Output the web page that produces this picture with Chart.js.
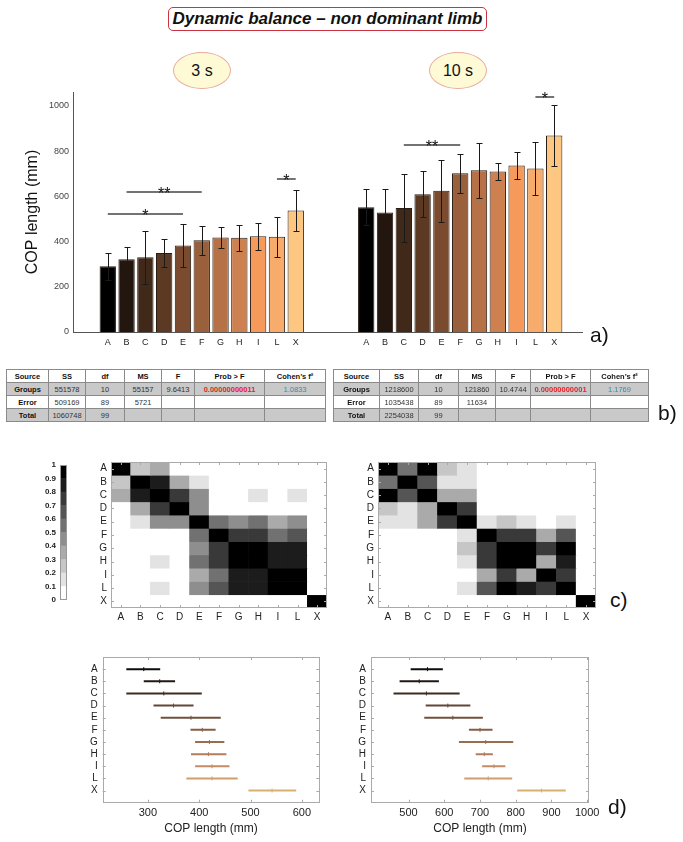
<!DOCTYPE html>
<html>
<head>
<meta charset="utf-8">
<script src="https://cdn.jsdelivr.net/npm/chart.js@4.4.1/dist/chart.umd.min.js"></script>
<style>
  body { margin: 0; width: 683px; height: 842px; position: relative; background: #fff; overflow: hidden;
         font-family: "Liberation Sans", Arial, sans-serif; color: #111; }
  canvas { position: absolute; }
  .title { position: absolute; left: 168px; top: 7px; width: 317px; height: 22px; border: 1.5px solid #cc3340;
           border-radius: 5px; text-align: center; line-height: 22px; font-size: 17px; font-weight: bold; font-style: italic; }
  .oval { position: absolute; top: 52px; width: 56px; height: 35px; border-radius: 50%; background: #fffad6;
          border: 1px solid #e8ab9c; text-align: center; line-height: 35px; font-size: 16px; }
  .lab { position: absolute; font-size: 21px; line-height: 24px; }
  table { position: absolute; border-collapse: collapse; table-layout: fixed; font-size: 7.5px; border: 1px solid #555; }
  td { border: 1px solid #8a8a8a; height: 12px; padding: 0; text-align: center; color: #333; overflow: hidden; white-space: nowrap; }
  tr.head td { font-weight: bold; color: #111; background: #fff; }
  tr.gray td { background: #c9c9c9; }
  td.src { font-weight: bold; color: #111; }
  td.p { color: #e8222a; font-weight: bold; }
  td.f2 { color: #2f8fb3; }
</style>
</head>
<body>
<div class="title">Dynamic balance – non dominant limb</div>
<div class="oval" style="left:173px">3 s</div>
<div class="oval" style="left:429px">10 s</div>

<canvas id="bars" width="683" height="300" style="left:0;top:60px"></canvas>
<div class="lab" style="left:590px;top:323px">a)</div>

<table id="tab3" style="left:6px;top:369px;width:319px"></table>
<table id="tab10" style="left:333px;top:369px;width:315px"></table>
<div class="lab" style="left:658px;top:401px">b)</div>

<canvas id="cbar" width="50" height="160" style="left:30px;top:455px"></canvas>
<canvas id="heat3" width="260" height="180" style="left:80px;top:450px"></canvas>
<canvas id="heat10" width="260" height="180" style="left:347px;top:450px"></canvas>
<div class="lab" style="left:610px;top:588px">c)</div>

<canvas id="mc3" width="290" height="197" style="left:50px;top:645px"></canvas>
<canvas id="mc10" width="290" height="197" style="left:320px;top:645px"></canvas>
<div class="lab" style="left:608px;top:795px">d)</div>

<script>
// groups and colours
const groups = ['A', 'B', 'C', 'D', 'E', 'F', 'G', 'H', 'I', 'L', 'X'];
const barColors = ['#000000', '#23160f', '#41291a', '#5c3923', '#7a4b2f', '#99603b', '#b67246', '#cd8150', '#f69a5c', '#f8ac6c', '#fec781'];
const lineColors = ['#0d0d0d', '#1f1814', '#3b2b21', '#634636', '#70503f', '#855c45', '#9c6c4f', '#b27d5c', '#c48c64', '#cf9e6c', '#d7b072'];

// a) mean and sd of COP length
const mean3 = [291, 322, 331, 350, 383, 406, 418, 417, 424, 422, 538];
const sd3 = [59, 55, 117, 62, 97, 64, 47, 57, 60, 88, 91];
const mean10 = [552, 529, 549, 610, 625, 702, 716, 710, 737, 724, 869];
const sd10 = [79, 102, 149, 101, 138, 85, 122, 36, 58, 117, 134];
const yTicksBars = [0, 200, 400, 600, 800, 1000];
// significance: from, to, height, mark
const sig3 = [['A', 'E', 523, '*'], ['B', 'F', 619, '**'], ['L', 'X', 676, '*']];
const sig10 = [['C', 'F', 829, '**'], ['L', 'X', 1041, '*']];

// b) anova tables
const tableHead = ['Source', 'SS', 'df', 'MS', 'F', 'Prob > F', 'Cohen\u2019s f\u00b2'];
const sources = ['Groups', 'Error', 'Total'];
const ss3 = [551578, 509169, 1060748];
const ss10 = [1218600, 1035438, 2254038];
const dfs = [10, 89, 99];
const ms3 = [55157, 5721];
const ms10 = [121860, 11634];
const fStat = ['9.6413', '10.4744'];
const probF = ['0.00000000011', '0.00000000001'];
const cohen = ['1.0833', '1.1769'];

// c) similarity matrices (0..1)
const sim3 = [
  [1, .25, .35, 0, 0, 0, 0, 0, 0, 0, 0],
  [.25, 1, .85, .35, .15, 0, 0, 0, 0, 0, 0],
  [.35, .85, 1, .7, .45, 0, 0, .15, 0, .15, 0],
  [0, .35, .7, 1, .45, 0, 0, 0, 0, 0, 0],
  [0, .15, .45, .45, 1, .55, .45, .55, .35, .45, 0],
  [0, 0, 0, 0, .55, 1, .7, .75, .55, .65, 0],
  [0, 0, 0, 0, .45, .7, 1, .95, .85, .85, 0],
  [0, 0, .15, 0, .55, .75, .95, 1, .85, .85, 0],
  [0, 0, 0, 0, .35, .55, .85, .85, 1, .95, 0],
  [0, 0, .15, 0, .45, .65, .85, .85, .95, 1, 0],
  [0, 0, 0, 0, 0, 0, 0, 0, 0, 0, 1]
];
const sim10 = [
  [1, .55, .95, .25, .15, 0, 0, 0, 0, 0, 0],
  [.55, 1, .65, .15, .15, 0, 0, 0, 0, 0, 0],
  [.95, .65, 1, .35, .35, 0, 0, 0, 0, 0, 0],
  [.25, .15, .35, 1, .75, 0, 0, 0, 0, 0, 0],
  [.15, .15, .35, .75, 1, .15, .25, .15, 0, .15, 0],
  [0, 0, 0, 0, .15, 1, .75, .75, .35, .6, 0],
  [0, 0, 0, 0, .25, .75, 1, .95, .7, .95, 0],
  [0, 0, 0, 0, .15, .75, .95, 1, .35, .85, 0],
  [0, 0, 0, 0, 0, .35, .7, .35, 1, .75, 0],
  [0, 0, 0, 0, .15, .6, .95, .85, .75, 1, 0],
  [0, 0, 0, 0, 0, 0, 0, 0, 0, 0, 1]
];
const cbLevels = [0, .1, .2, .3, .4, .5, .6, .7, .8, .9];
const cbTicks = [0, .1, .2, .3, .4, .5, .6, .7, .8, .9, 1];

// d) comparison intervals
const lo3 = [258, 292, 258, 311, 325, 383, 392, 384, 392, 375, 496];
const mid3 = [292, 323, 331, 350, 384, 406, 420, 418, 425, 425, 542];
const hi3 = [324, 353, 405, 389, 442, 432, 449, 453, 459, 475, 589];
const lo10 = [506, 475, 458, 548, 544, 669, 641, 688, 706, 656, 804];
const mid10 = [553, 530, 550, 610, 624, 700, 716, 712, 739, 723, 872];
const hi10 = [596, 585, 643, 673, 708, 735, 793, 736, 771, 790, 940];
const xTicks3 = [300, 400, 500, 600];
const xTicks10 = [500, 600, 700, 800, 900, 1000];

Chart.defaults.font.family = '"Liberation Sans", Arial, sans-serif';
Chart.defaults.color = '#222';
Chart.defaults.animation = false;
Chart.defaults.plugins.legend.display = false;
Chart.defaults.plugins.tooltip.enabled = false;

const gap = 13.75; // slots between the two groups of bars
const xPos = groups.map((g, i) => i).concat(groups.map((g, i) => i + gap));
const allLabels = groups.concat(groups);
const allMeans = mean3.concat(mean10);
const allSd = sd3.concat(sd10);

const errBars = {
  id: 'errBars',
  afterDatasetsDraw(chart) {
    const {ctx, scales: {x, y}} = chart;
    const meta = chart.getDatasetMeta(0);
    ctx.save();
    ctx.strokeStyle = '#1a1a1a';
    ctx.lineWidth = 1;
    meta.data.forEach((bar, i) => {
      const px = Math.round(bar.x) + 0.5;
      const t = Math.round(y.getPixelForValue(allMeans[i] + allSd[i])) + 0.5;
      const b = Math.round(y.getPixelForValue(allMeans[i] - allSd[i])) + 0.5;
      ctx.beginPath();
      ctx.moveTo(px, t); ctx.lineTo(px, b);
      ctx.moveTo(px - 3, t); ctx.lineTo(px + 3, t);
      ctx.moveTo(px - 3, b); ctx.lineTo(px + 3, b);
      ctx.stroke();
    });
    // significance brackets
    const marks = sig3.map(s => [groups.indexOf(s[0]), groups.indexOf(s[1]), s[2], s[3]])
      .concat(sig10.map(s => [groups.indexOf(s[0]) + 11, groups.indexOf(s[1]) + 11, s[2], s[3]]));
    ctx.strokeStyle = '#444';
    ctx.lineWidth = 1.5;
    ctx.fillStyle = '#111';
    ctx.font = '16px "Liberation Sans", Arial, sans-serif';
    ctx.textAlign = 'center';
    ctx.textBaseline = 'alphabetic';
    marks.forEach(([a, b, v, m]) => {
      const x1 = meta.data[a].x, x2 = meta.data[b].x;
      const py = Math.round(y.getPixelForValue(v));
      ctx.beginPath();
      ctx.moveTo(x1, py); ctx.lineTo(x2, py);
      ctx.stroke();
      ctx.fillText(m, (x1 + x2) / 2, py + 7);
    });
    ctx.restore();
  }
};

new Chart(document.getElementById('bars'), {
  type: 'bar',
  data: {
    datasets: [{
      data: allMeans.map((v, i) => ({x: xPos[i], y: v})),
      backgroundColor: barColors.concat(barColors),
      borderColor: '#2a1d14',
      borderWidth: 1,
      barPercentage: 0.87,
      categoryPercentage: 1
    }]
  },
  options: {
    responsive: false,
    devicePixelRatio: 1,
    layout: {padding: {top: 32, right: 101, left: 0, bottom: 0}},
    scales: {
      x: {
        type: 'linear', min: -1.85, max: 25.23, offset: false,
        grid: {display: false, drawTicks: false},
        border: {display: true, color: '#555'},
        afterBuildTicks: s => { s.ticks = xPos.map(v => ({value: v})); },
        afterFit: s => { s.height = 28; },
        ticks: {autoSkip: false, maxRotation: 0, padding: 5, font: {size: 9}, color: '#222',
                callback: (v, i) => allLabels[i]}
      },
      y: {
        min: 0, max: 1062,
        grid: {display: false, drawTicks: false},
        border: {display: true, color: '#555'},
        afterBuildTicks: s => { s.ticks = yTicksBars.map(v => ({value: v})); },
        afterFit: s => { s.width = 73; },
        ticks: {padding: 4, font: {size: 9}, color: '#444', callback: v => String(v)},
        title: {display: true, text: 'COP length (mm)', font: {size: 16}, color: '#111', padding: {top: 23, bottom: 0}}
      }
    }
  },
  plugins: [errBars]
});

// tables
function buildTable(id, k, ss, ms) {
  const rows = [tableHead];
  sources.forEach((s, i) => {
    rows.push([s, ss[i], dfs[i], i < ms.length ? ms[i] : '', i === 0 ? fStat[k] : '', i === 0 ? probF[k] : '', i === 0 ? cohen[k] : '']);
  });
  const widths = k === 0 ? [42, 37, 39, 37, 33, 70, 61] : [46, 39, 40, 37, 35, 60, 58];
  let html = '<colgroup>' + widths.map(w => '<col style="width:' + w + 'px">').join('') + '</colgroup>';
  rows.forEach((r, ri) => {
    const cls = ri === 0 ? 'head' : (ri === 2 ? '' : 'gray');
    html += '<tr class="' + cls + '">' + r.map((c, ci) => {
      let tc = ci === 0 ? 'src' : '';
      if (ri === 1 && ci === 5) tc = 'p';
      if (ri === 1 && ci === 6) tc = 'f2';
      return '<td class="' + tc + '">' + c + '</td>';
    }).join('') + '</tr>';
  });
  document.getElementById(id).innerHTML = html;
}
buildTable('tab3', 0, ss3, ms3);
buildTable('tab10', 1, ss10, ms10);

// grey level for a similarity value
function grayOf(v) {
  const k = Math.min(9, Math.floor(v * 10 + 1e-6));
  const g = Math.round(255 * (1 - k / 9));
  return 'rgb(' + g + ',' + g + ',' + g + ')';
}

function frame(color, withTicks) {
  return {
    id: 'frame',
    afterDraw(chart) {
      const {ctx, chartArea: a, scales: {x, y}} = chart;
      ctx.save();
      ctx.strokeStyle = color;
      ctx.lineWidth = 1;
      ctx.strokeRect(Math.round(a.left) + 0.5, Math.round(a.top) + 0.5, Math.round(a.width) - 1, Math.round(a.height) - 1);
      if (withTicks) {
        ctx.beginPath();
        x.ticks.forEach((t, i) => {
          const px = Math.round(x.getPixelForTick(i)) + 0.5;
          ctx.moveTo(px, a.top); ctx.lineTo(px, a.top + 3);
          ctx.moveTo(px, a.bottom); ctx.lineTo(px, a.bottom - 3);
        });
        y.ticks.forEach((t, i) => {
          const py = Math.round(y.getPixelForTick(i)) + 0.5;
          ctx.moveTo(a.left, py); ctx.lineTo(a.left + 3, py);
          ctx.moveTo(a.right, py); ctx.lineTo(a.right - 3, py);
        });
        ctx.stroke();
      }
      ctx.restore();
    }
  };
}

function heatmap(id, matrix, padRight) {
  new Chart(document.getElementById(id), {
    type: 'bar',
    data: {
      labels: groups,
      datasets: matrix.map((row, r) => ({
        data: row.map(() => [r - 0.5, r + 0.5]),
        backgroundColor: row.map(grayOf),
        borderWidth: 0,
        grouped: false,
        barPercentage: 1,
        categoryPercentage: 1
      }))
    },
    options: {
      responsive: false,
      devicePixelRatio: 1,
      layout: {padding: {top: 12, right: padRight, left: 0, bottom: 0}},
      scales: {
        x: {
          grid: {display: false, drawTicks: false},
          border: {display: false},
          afterFit: s => { s.height = 22; },
          ticks: {autoSkip: false, padding: 3, font: {size: 10}, color: '#222', maxRotation: 0}
        },
        y: {
          min: -0.5, max: 10.5, reverse: true,
          grid: {display: false, drawTicks: false},
          border: {display: false},
          afterBuildTicks: s => { s.ticks = groups.map((g, i) => ({value: i})); },
          afterFit: s => { s.width = 31; },
          ticks: {autoSkip: false, padding: 4, font: {size: 10}, color: '#222', callback: (v, i) => groups[i]}
        }
      }
    },
    plugins: [frame('#aaa', true)]
  });
}
heatmap('heat3', sim3, 13);
heatmap('heat10', sim10, 11);

// colour bar
new Chart(document.getElementById('cbar'), {
  type: 'bar',
  data: {
    labels: [''],
    datasets: cbLevels.map(l => ({
      data: [[l, l + 0.1]],
      backgroundColor: grayOf(l),
      borderWidth: 0,
      grouped: false,
      barPercentage: 1,
      categoryPercentage: 1
    }))
  },
  options: {
    responsive: false,
    devicePixelRatio: 1,
    layout: {padding: {top: 10, right: 13, left: 0, bottom: 15}},
    scales: {
      x: {display: false},
      y: {
        min: 0, max: 1,
        grid: {display: false, drawTicks: false},
        border: {display: false},
        afterBuildTicks: s => { s.ticks = cbTicks.map(v => ({value: v})); },
        afterFit: s => { s.width = 30; },
        ticks: {autoSkip: false, padding: 4, font: {size: 8, weight: 'bold'}, color: '#222', callback: v => String(Math.round(v * 10) / 10)}
      }
    }
  },
  plugins: [frame('#999', false)]
});

// multiple comparison intervals
function intervals(id, lo, mid, hi, xmin, xmax, xticks, yWidth, padRight) {
  const ds = groups.map((g, i) => ({
    data: [{x: lo[i], y: i}, {x: hi[i], y: i}],
    showLine: true,
    borderColor: lineColors[i],
    borderWidth: 2,
    pointRadius: 0
  }));
  ds.push({
    data: mid.map((m, i) => ({x: m, y: i})),
    showLine: false,
    pointStyle: 'line',
    rotation: 90,
    pointRadius: 2,
    pointBorderWidth: 1,
    pointBorderColor: lineColors,
    pointBackgroundColor: lineColors
  });
  new Chart(document.getElementById(id), {
    type: 'scatter',
    data: {datasets: ds},
    options: {
      responsive: false,
      devicePixelRatio: 1,
      layout: {padding: {top: 12, right: padRight, left: 0, bottom: 0}},
      scales: {
        x: {
          type: 'linear', min: xmin, max: xmax,
          grid: {display: false, drawTicks: false},
          border: {display: false},
          afterBuildTicks: s => { s.ticks = xticks.map(v => ({value: v})); },
          afterFit: s => { s.height = 39.3; },
          ticks: {autoSkip: false, padding: 4, font: {size: 11}, color: '#222', maxRotation: 0, callback: v => String(v)},
          title: {display: true, text: 'COP length (mm)', font: {size: 12}, color: '#222', padding: {top: 0, bottom: 6}}
        },
        y: {
          min: -1, max: 11, reverse: true,
          grid: {display: false, drawTicks: false},
          border: {display: false},
          afterBuildTicks: s => { s.ticks = groups.map((g, i) => ({value: i})); },
          afterFit: s => { s.width = yWidth; },
          ticks: {autoSkip: false, padding: 5, font: {size: 10}, color: '#222', callback: (v, i) => groups[i]}
        }
      }
    },
    plugins: [frame('#aaa', true)]
  });
}
intervals('mc3', lo3, mid3, hi3, 212, 634, xTicks3, 52.7, 20.7);
intervals('mc10', lo10, mid10, hi10, 395, 1005, xTicks10, 51, 21);
</script>
</body>
</html>
